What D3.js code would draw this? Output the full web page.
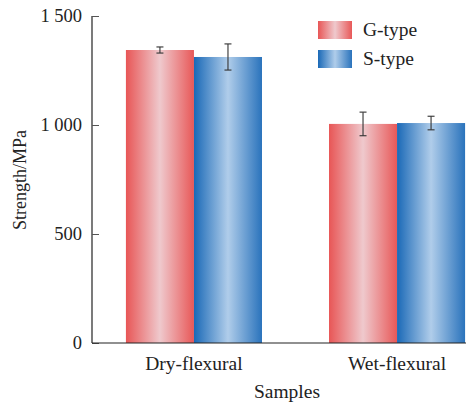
<!DOCTYPE html>
<html><head><meta charset="utf-8">
<script src="https://cdn.jsdelivr.net/npm/d3@7"></script>
<style>body{margin:0;background:#fff}svg{display:block}text{font-family:"Liberation Serif","Times New Roman",serif;fill:#222}</style>
</head><body><svg id="c" width="466" height="403"></svg>
<script>
const categories = ["Dry-flexural", "Wet-flexural"];
const seriesNames = ["G-type", "S-type"];
const gValues = [1344, 1005];
const sValues = [1312, 1009];
const gErrors = [14, 54];
const sErrors = [60, 31];
const yTicks = [0, 500, 1000, 1500];
const yTickLabels = ["0", "500", "1 000", "1 500"];

(function () {
const svg = d3.select("#c");
const mLeft = 92, mRight = 499, mTop = 16, mBottom = 343;
const y = d3.scaleLinear().domain([0, 1500]).range([mBottom, mTop]);
const x0 = d3.scaleBand().domain(categories).range([mLeft, mRight]).paddingInner(0.33).paddingOuter(0.167);
const x1 = d3.scaleBand().domain(seriesNames).range([0, x0.bandwidth()]);

const defs = svg.append("defs");
function grad(id, stops) {
  const g = defs.append("linearGradient").attr("id", id).attr("x1", "0%").attr("x2", "100%").attr("y1", "0%").attr("y2", "0%");
  stops.forEach(s => g.append("stop").attr("offset", s[0]).attr("stop-color", s[1]));
}
grad("gRed", [["0%", "#e85656"], ["50%", "#efc9cd"], ["100%", "#e85858"]]);
grad("gBlue", [["0%", "#1a69b7"], ["50%", "#b0cdea"], ["100%", "#2a73bc"]]);
const fills = {"G-type": "url(#gRed)", "S-type": "url(#gBlue)"};

const data = categories.map((c, i) => ({cat: c, items: [
  {name: "G-type", v: gValues[i], e: gErrors[i]},
  {name: "S-type", v: sValues[i], e: sErrors[i]}]}));

const groups = svg.append("g").selectAll("g").data(data).join("g")
  .attr("transform", d => `translate(${x0(d.cat)},0)`);
groups.selectAll("rect").data(d => d.items).join("rect")
  .attr("x", d => x1(d.name)).attr("width", x1.bandwidth())
  .attr("y", d => y(d.v)).attr("height", d => y(0) - y(d.v))
  .attr("fill", d => fills[d.name]);

const eb = groups.selectAll("g.eb").data(d => d.items).join("g").attr("class", "eb")
  .attr("stroke", "#333").attr("stroke-width", 1.3).attr("stroke-opacity", 0.85);
eb.append("line").attr("x1", d => x1(d.name) + x1.bandwidth() / 2).attr("x2", d => x1(d.name) + x1.bandwidth() / 2)
  .attr("y1", d => y(d.v + d.e)).attr("y2", d => y(d.v - d.e));
[1, -1].forEach(s => eb.append("line")
  .attr("x1", d => x1(d.name) + x1.bandwidth() / 2 - 3.5).attr("x2", d => x1(d.name) + x1.bandwidth() / 2 + 3.5)
  .attr("y1", d => y(d.v + s * d.e)).attr("y2", d => y(d.v + s * d.e)));

const yAxis = svg.append("g").attr("transform", `translate(${mLeft},0)`)
  .call(d3.axisLeft(y).tickValues(yTicks).tickSize(-7).tickPadding(10).tickFormat((d, i) => yTickLabels[i]));
yAxis.select(".domain").attr("d", `M0,${mTop}V${mBottom}`).attr("stroke", "#222").attr("stroke-width", 1.2);
yAxis.selectAll(".tick line").attr("stroke", "#555");
yAxis.selectAll(".tick text").attr("font-size", 18.5).attr("font-family", "Liberation Serif").attr("fill", "#222");

const xAxis = svg.append("g").attr("transform", `translate(0,${mBottom})`)
  .call(d3.axisBottom(x0).tickSize(0).tickPadding(13));
xAxis.select(".domain").attr("d", `M${mLeft},0H466`).attr("stroke", "#222").attr("stroke-width", 1.2);
xAxis.selectAll(".tick text").attr("font-size", 19.5).attr("font-family", "Liberation Serif").attr("fill", "#222");

svg.append("text").attr("x", 287).attr("y", 398).attr("text-anchor", "middle").attr("font-size", 19.5).text("Samples");
svg.append("text").attr("transform", "translate(26,180) rotate(-90)").attr("text-anchor", "middle").attr("font-size", 18).text("Strength/MPa");

const lg = svg.append("g").selectAll("g").data(seriesNames).join("g")
  .attr("transform", (d, i) => `translate(318,${21 + i * 29})`);
lg.append("rect").attr("width", 34).attr("height", 18).attr("fill", d => fills[d]);
lg.append("text").attr("x", 45).attr("y", 15).attr("font-size", 19.5).text(d => d);
})();
</script></body></html>
